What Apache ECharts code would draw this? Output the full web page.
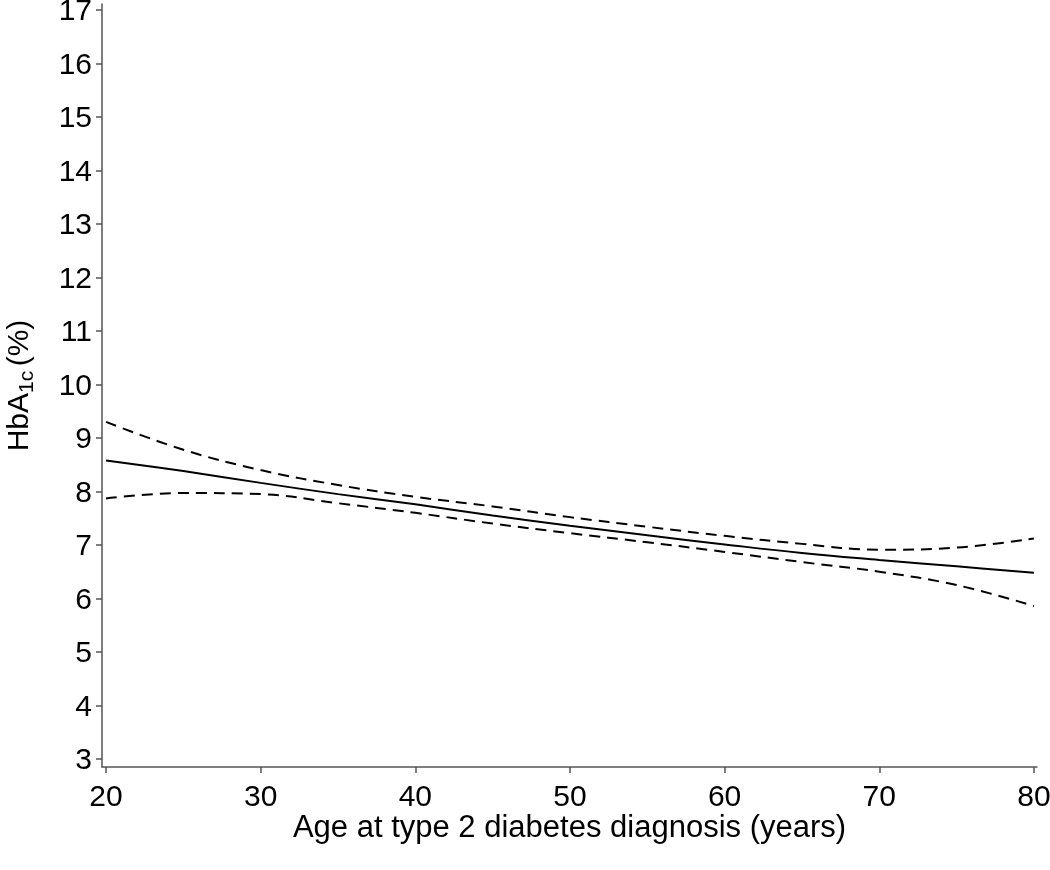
<!DOCTYPE html>
<html><head><meta charset="utf-8">
<script src="https://cdn.jsdelivr.net/npm/echarts@6/dist/echarts.min.js"></script>
<style>html,body{margin:0;padding:0;background:#fff}#c{width:1050px;height:870px}</style>
</head><body><div id="c"></div>
<script>
const ages = [20,25,30,35,40,45,50,55,60,65,70,75,80];
const fit = [8.58,8.38,8.16,7.95,7.76,7.55,7.36,7.18,7.01,6.85,6.72,6.60,6.48];
const upper = [9.30,8.78,8.40,8.12,7.90,7.72,7.52,7.34,7.17,7.02,6.91,6.95,7.12];
const lower = [7.87,7.97,7.95,7.78,7.60,7.40,7.22,7.05,6.87,6.68,6.50,6.25,5.86];
const xTicks = [20,30,40,50,60,70,80];
const yTicks = [3,4,5,6,7,8,9,10,11,12,13,14,15,16,17];
const F = 'Liberation Sans, Arial, Helvetica, sans-serif';
const pair = a => ages.map((x,i)=>[x,a[i]]);
const chart = echarts.init(document.getElementById('c'));
chart.setOption({
  animation:false,
  grid:{left:102,right:13,top:4,bottom:103,containLabel:false,outerBoundsMode:'none'},
  xAxis:{type:'value',min:19.74,max:80.2,
    name:'Age at type 2 diabetes diagnosis (years)',nameLocation:'middle',nameGap:46,nameMoveOverlap:false,
    nameTextStyle:{fontFamily:F,fontSize:31,color:'#000'},
    axisLine:{lineStyle:{color:'#555',width:1.5}},
    axisTick:{show:true,length:6,customValues:xTicks,lineStyle:{color:'#555',width:1.5}},
    axisLabel:{customValues:xTicks,margin:16,fontFamily:F,fontSize:30,color:'#000'},
    splitLine:{show:false}},
  yAxis:{type:'value',min:2.85,max:17.11,
    name:'HbA{sub|1c}{sp| }(%)',nameLocation:'middle',nameGap:64,nameRotate:90,nameMoveOverlap:false,
    nameTextStyle:{fontFamily:F,fontSize:30,color:'#000',lineHeight:36,
      rich:{
        sub:{fontFamily:F,fontSize:21,color:'#000',verticalAlign:'bottom',lineHeight:36},
        sp:{fontFamily:F,fontSize:16,lineHeight:36}
      }},
    axisLine:{show:true,lineStyle:{color:'#555',width:1.5}},
    axisTick:{show:true,length:6,customValues:yTicks,lineStyle:{color:'#555',width:1.5}},
    axisLabel:{customValues:yTicks,margin:10,verticalAlign:'top',lineHeight:4,fontFamily:F,fontSize:30,color:'#000'},
    splitLine:{show:false}},
  series:[
    {type:'line',data:pair(fit),smooth:0.4,symbol:'none',lineStyle:{color:'#000',width:2}},
    {type:'line',data:pair(upper),smooth:0.4,symbol:'none',lineStyle:{color:'#000',width:2,type:[11,7]}},
    {type:'line',data:pair(lower),smooth:0.4,symbol:'none',lineStyle:{color:'#000',width:2,type:[11,7]}}
  ]
});
</script></body></html>
